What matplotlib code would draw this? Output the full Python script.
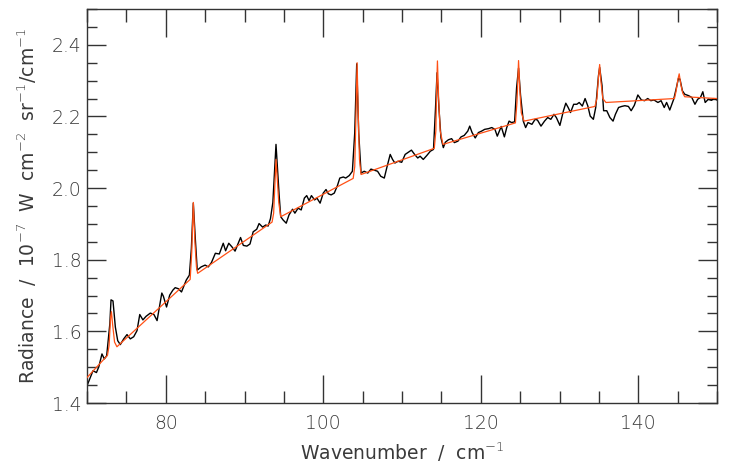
import matplotlib
matplotlib.use("Agg")
import matplotlib.pyplot as plt
from matplotlib.ticker import MultipleLocator, FormatStrFormatter

# Measured spectrum (black)
obs_x = [70.0, 70.34, 70.76, 71.2, 71.5, 71.9, 72.2, 72.5, 72.9, 73.05, 73.3, 73.6, 73.9, 74.23, 74.66,
         75.08, 75.5, 75.93, 76.35, 76.7, 77.1, 77.5, 78.04, 78.5, 78.9, 79.2, 79.5, 79.7, 80.1, 80.5,
         80.9, 81.2, 81.6, 82.0, 82.6, 83.0, 83.25, 83.5, 83.75, 84.0, 84.5, 85.0, 85.4, 85.8, 86.3,
         86.8, 87.3, 87.6, 88.0, 88.4, 88.8, 89.1, 89.5, 89.85, 90.3, 90.7, 91.1, 91.55, 91.85, 92.3,
         92.7, 93.0, 93.3, 93.6, 93.85, 94.0, 94.2, 94.4, 94.6, 94.9, 95.3, 95.65, 96.1, 96.4, 96.8,
         97.2, 97.6, 97.9, 98.2, 98.5, 98.9, 99.2, 99.6, 100.0, 100.35, 100.65, 101.0, 101.4, 101.8,
         102.1, 102.55, 102.85, 103.3, 103.7, 104.0, 104.25, 104.5, 104.8, 105.2, 105.65, 106.06,
         106.5, 106.9, 107.3, 107.75, 108.06, 108.5, 108.8, 109.1, 109.5, 109.96, 110.4, 110.8, 111.2,
         111.6, 112.0, 112.3, 112.7, 113.15, 113.6, 114.0, 114.25, 114.45, 114.7, 114.95, 115.25,
         115.5, 115.9, 116.3, 116.65, 117.1, 117.5, 117.9, 118.35, 118.6, 118.9, 119.3, 119.7, 120.1,
         120.5, 121.0, 121.4, 121.8, 122.1, 122.6, 123.0, 123.3, 123.6, 123.9, 124.3, 124.55, 124.8,
         125.05, 125.4, 125.7, 126.0, 126.5, 126.9, 127.2, 127.65, 128.1, 128.5, 128.9, 129.3, 129.6,
         130.05, 130.5, 130.8, 131.1, 131.4, 131.8, 132.2, 132.5, 132.9, 133.25, 133.6, 133.9, 134.3,
         134.6, 134.95, 135.1, 135.4, 135.6, 136.0, 136.4, 136.8, 137.1, 137.5, 137.9, 138.3, 138.75,
         139.1, 139.5, 139.95, 140.4, 140.8, 141.2, 141.6, 142.0, 142.5, 142.9, 143.3, 143.6, 144.0,
         144.5, 144.8, 145.1, 145.3, 145.6, 145.9, 146.4, 146.8, 147.2, 147.55, 147.9, 148.2, 148.5,
         148.9, 149.3, 149.6, 150.0]
obs_y = [1.448, 1.467, 1.490, 1.485, 1.501, 1.537, 1.523, 1.532, 1.621, 1.688, 1.685, 1.612, 1.574, 1.563, 1.579,
         1.591, 1.579, 1.585, 1.602, 1.647, 1.632, 1.642, 1.651, 1.647, 1.630, 1.668, 1.707, 1.698, 1.668, 1.701,
         1.715, 1.722, 1.719, 1.710, 1.743, 1.757, 1.830, 1.958, 1.860, 1.771, 1.780, 1.785, 1.780, 1.792, 1.818,
         1.816, 1.846, 1.825, 1.846, 1.836, 1.824, 1.840, 1.862, 1.840, 1.838, 1.844, 1.878, 1.885, 1.901, 1.891,
         1.897, 1.894, 1.915, 1.960, 2.060, 2.122, 2.050, 1.980, 1.920, 1.911, 1.902, 1.925, 1.941, 1.930, 1.944,
         1.939, 1.972, 1.979, 1.965, 1.979, 1.967, 1.972, 1.958, 1.986, 1.996, 1.984, 1.981, 1.986, 2.007,
         2.028, 2.031, 2.028, 2.035, 2.047, 2.155, 2.347, 2.155, 2.042, 2.047, 2.042, 2.053,
         2.050, 2.047, 2.033, 2.028, 2.056, 2.094, 2.080, 2.070, 2.075, 2.072, 2.094, 2.100, 2.106,
         2.094, 2.084, 2.089, 2.080, 2.091, 2.103, 2.108, 2.220, 2.322, 2.220, 2.140, 2.113,
         2.128, 2.135, 2.138, 2.127, 2.131, 2.143, 2.147, 2.159, 2.173, 2.155, 2.140, 2.155, 2.159,
         2.164, 2.166, 2.169, 2.164, 2.145, 2.172, 2.143, 2.169, 2.187, 2.183, 2.185, 2.280, 2.335,
         2.260, 2.187, 2.169, 2.183, 2.178, 2.192, 2.190, 2.173, 2.187, 2.197, 2.192, 2.206, 2.197,
         2.175, 2.216, 2.237, 2.225, 2.211, 2.234, 2.234, 2.239, 2.229, 2.250, 2.229, 2.201, 2.192,
         2.225, 2.314, 2.337, 2.286, 2.216, 2.216, 2.197, 2.187, 2.206, 2.225, 2.228, 2.230, 2.228,
         2.216, 2.231, 2.260, 2.246, 2.244, 2.250, 2.244, 2.246, 2.239, 2.244, 2.225, 2.239, 2.218,
         2.248, 2.276, 2.306, 2.304, 2.272, 2.262, 2.258, 2.253, 2.234, 2.248, 2.253, 2.269, 2.239,
         2.248, 2.245, 2.250, 2.246]

# Model spectrum (red)
mod_x = [70.0, 72.6, 72.8, 73.0, 73.1, 73.25, 73.5, 73.8,
         83.1, 83.3, 83.5, 83.7, 83.9, 84.05,
         93.5, 93.7, 93.9, 94.0, 94.15, 94.35, 94.6,
         103.8, 104.0, 104.15, 104.3, 104.45, 104.6, 104.8,
         114.1, 114.3, 114.4, 114.5, 114.65, 114.85, 115.2,
         124.4, 124.6, 124.8, 124.95, 125.15, 125.5,
         134.5, 134.75, 134.95, 135.1, 135.25, 135.5, 135.9,
         144.6, 144.8, 145.05, 145.2, 145.4, 145.65, 145.9, 150.0]
mod_y = [1.471, 1.533, 1.560, 1.640, 1.655, 1.620, 1.570, 1.557,
         1.745, 1.820, 1.960, 1.850, 1.780, 1.762,
         1.905, 1.930, 2.030, 2.080, 2.030, 1.960, 1.920,
         2.027, 2.060, 2.200, 2.350, 2.200, 2.080, 2.038,
         2.111, 2.160, 2.280, 2.355, 2.250, 2.160, 2.122,
         2.182, 2.240, 2.356, 2.280, 2.210, 2.187,
         2.228, 2.250, 2.310, 2.345, 2.300, 2.250, 2.239,
         2.250, 2.270, 2.305, 2.319, 2.290, 2.265, 2.255, 2.250]

x_ticks = [80, 100, 120, 140]
y_ticks = [1.4, 1.6, 1.8, 2.0, 2.2, 2.4]

txt_color = "#3a3a3a"
plt.rcParams["font.family"] = ["DejaVu Sans"]
plt.rcParams["font.weight"] = "light"
plt.rcParams["mathtext.fontset"] = "custom"
plt.rcParams["mathtext.rm"] = "DejaVu Sans:light"
plt.rcParams["mathtext.default"] = "rm"

fig = plt.figure(figsize=(7.29, 4.69), dpi=100)
ax = fig.add_axes([87/729, 66/469, 630/729, 394/469])

ax.plot(obs_x, obs_y, color="black", lw=1.0, zorder=2)
ax.plot(mod_x, mod_y, color="#ff5015", lw=0.9, zorder=3)

ax.set_xlim(70, 150)
ax.set_ylim(1.4, 2.5)
ax.set_xticks(x_ticks)
ax.set_yticks(y_ticks)
ax.yaxis.set_major_formatter(FormatStrFormatter("%.1f"))
ax.xaxis.set_minor_locator(MultipleLocator(5))
ax.yaxis.set_minor_locator(MultipleLocator(0.05))

for s in ax.spines.values():
    s.set_color("#333333")
    s.set_linewidth(1.0)

ax.tick_params(axis="both", which="both", direction="in", top=True, right=True,
               colors="#333333", labelcolor=txt_color, width=1.0, labelsize=13.5)
ax.tick_params(axis="x", which="major", length=20, pad=8)
ax.tick_params(axis="x", which="minor", length=9)
ax.tick_params(axis="y", which="major", length=14, pad=4)
ax.tick_params(axis="y", which="minor", length=7)

ax.set_xlabel("Wavenumber  /  cm$^{-1}$", fontsize=13.5, color=txt_color, labelpad=5)
ax.set_ylabel("Radiance  /  10$^{-7}$  W  cm$^{-2}$  sr$^{-1}$/cm$^{-1}$", fontsize=13.5,
              color=txt_color, labelpad=9)

fig.savefig("out.png", dpi=100)
